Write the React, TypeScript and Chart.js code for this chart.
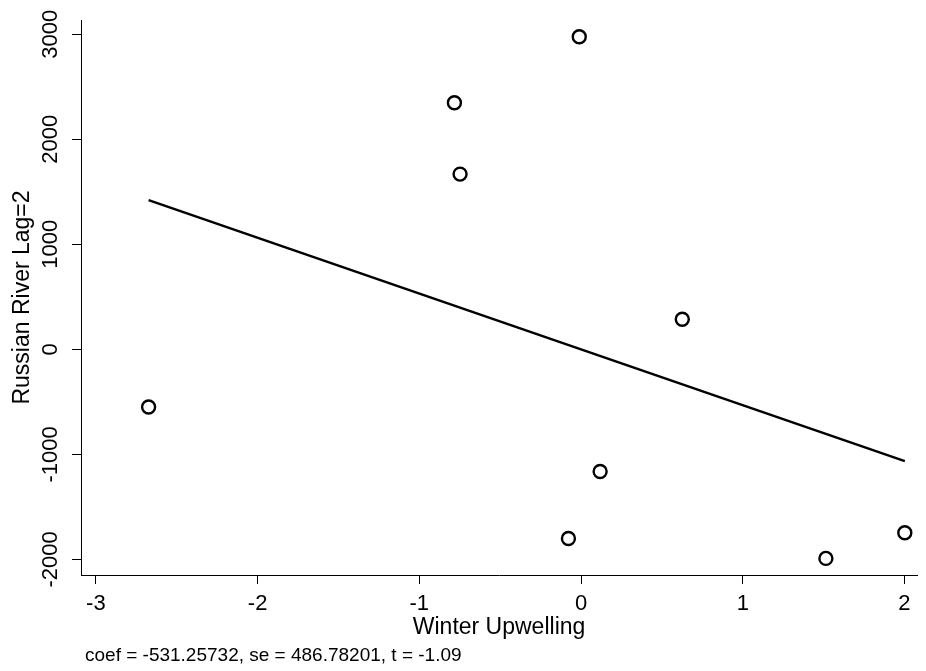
import React, { useEffect, useRef } from "react";
import { Chart, registerables } from "chart.js";

Chart.register(...registerables);

// ---- Data ----
const upwelling = [-2.674, -0.783, -0.748, -0.011, 0.626, 0.118, -0.078, 1.514, 2.002];
const russianRiver = [-549, 2348, 1669, 2977, 287, -1162, -1800, -1990, -1746];
const coef = -531.25732;
const se = 486.78201;
const tStat = -1.09;
const xTicks = [-3, -2, -1, 0, 1, 2];
const yTicks = [-2000, -1000, 0, 1000, 2000, 3000];
const xTitle = "Winter Upwelling";
const yTitle = "Russian River Lag=2";
const note = `coef = ${coef.toFixed(5)}, se = ${se.toFixed(5)}, t = ${tStat.toFixed(2)}`;

const FAMILY = '"Liberation Sans", Arial, Helvetica, sans-serif';

const notePlugin = {
  id: "avplotNote",
  afterDraw(chart: any) {
    const ctx = chart.ctx;
    ctx.save();
    ctx.font = `19px ${FAMILY}`;
    ctx.fillStyle = "#000";
    ctx.textAlign = "left";
    ctx.textBaseline = "middle";
    ctx.fillText(note, chart.chartArea.left + 4, 656);
    ctx.restore();
  },
};

export default function App() {
  const canvasRef = useRef<HTMLCanvasElement | null>(null);

  useEffect(() => {
    if (!canvasRef.current) return;
    const xmin = Math.min(...upwelling);
    const xmax = Math.max(...upwelling);
    const points = upwelling.map((x, i) => ({ x, y: russianRiver[i] }));
    const fit = [
      { x: xmin, y: coef * xmin },
      { x: xmax, y: coef * xmax },
    ];

    const chart = new Chart(canvasRef.current, {
      type: "scatter",
      data: {
        datasets: [
          {
            label: "fit",
            data: fit,
            showLine: true,
            borderColor: "#000",
            borderWidth: 2.5,
            pointRadius: 0,
            pointHoverRadius: 0,
            fill: false,
            order: 2,
          },
          {
            label: "obs",
            data: points,
            pointStyle: "circle",
            pointRadius: 6.5,
            pointHoverRadius: 6.5,
            borderWidth: 2.4,
            borderColor: "#000",
            backgroundColor: "rgba(0,0,0,0)",
            order: 1,
          },
        ],
      },
      options: {
        responsive: false,
        animation: false,
        devicePixelRatio: 1,
        layout: { padding: { left: 0, top: 20, right: 1, bottom: 0 } },
        plugins: {
          legend: { display: false },
          tooltip: { enabled: false },
          title: { display: false },
        },
        scales: {
          x: {
            type: "linear",
            min: -3.092,
            max: 2.078,
            afterBuildTicks: (s: any) => {
              s.ticks = xTicks.map((v) => ({ value: v }));
            },
            afterFit: (s: any) => {
              s.height = 96;
            },
            grid: {
              drawOnChartArea: false,
              drawTicks: true,
              tickLength: 9,
              color: "#000",
              lineWidth: 1,
            },
            border: { display: true, color: "#000", width: 1 },
            ticks: {
              color: "#000",
              font: { family: FAMILY, size: 22 },
              padding: 7,
              maxRotation: 0,
              minRotation: 0,
              autoSkip: false,
              callback: (v: any) => `${v}`,
            },
            title: {
              display: true,
              text: xTitle,
              color: "#000",
              font: { family: FAMILY, size: 23 },
              padding: { top: 0, bottom: 30 },
            },
          },
          y: {
            type: "linear",
            min: -2148,
            max: 3136,
            afterBuildTicks: (s: any) => {
              s.ticks = yTicks.map((v) => ({ value: v }));
            },
            afterFit: (s: any) => {
              s.width = 81;
            },
            grid: {
              drawOnChartArea: false,
              drawTicks: true,
              tickLength: 9,
              color: "#000",
              lineWidth: 1,
            },
            border: { display: true, color: "#000", width: 1 },
            ticks: {
              color: "#000",
              font: { family: FAMILY, size: 22 },
              padding: -7,
              minRotation: 90,
              maxRotation: 90,
              crossAlign: "center",
              autoSkip: false,
              callback: (v: any) => `${v}`,
            },
            title: {
              display: true,
              text: yTitle,
              color: "#000",
              font: { family: FAMILY, size: 23 },
              padding: { top: 9, bottom: 0 },
            },
          },
        },
      },
      plugins: [notePlugin],
    } as any);

    return () => chart.destroy();
  }, []);

  return (
    <div style={{ position: "absolute", left: 0, top: 0, width: 926, height: 671, background: "#fff" }}>
      <canvas ref={canvasRef} width={926} height={671} style={{ display: "block" }} />
    </div>
  );
}
